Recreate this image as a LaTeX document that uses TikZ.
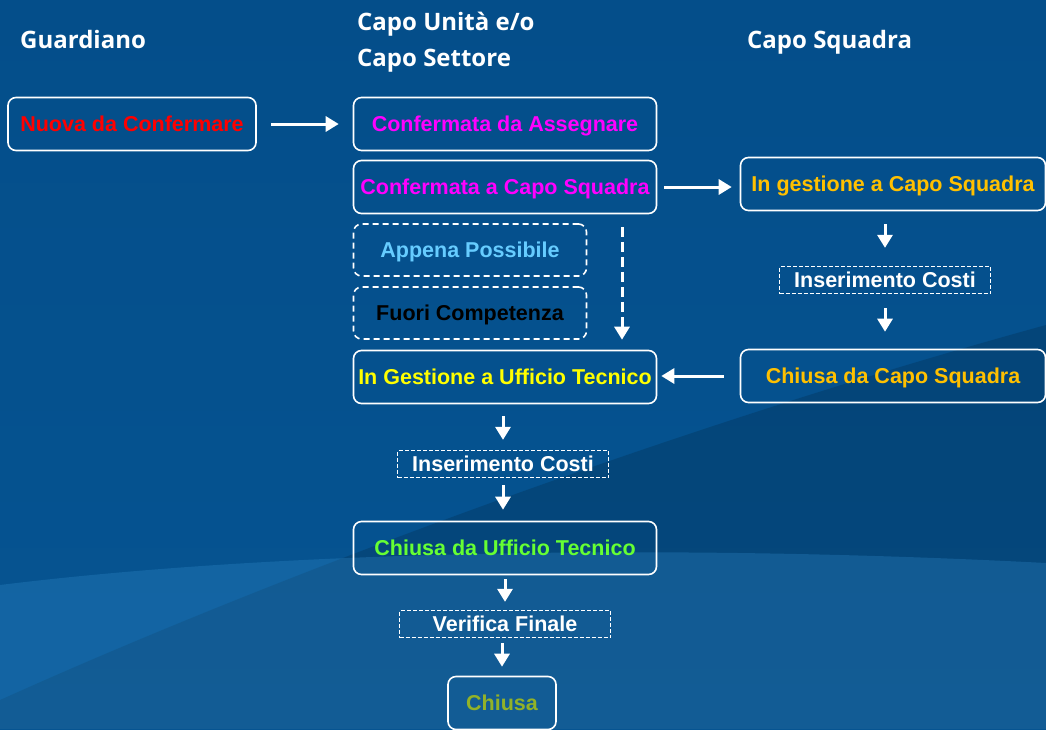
\documentclass[tikz,border=0pt]{standalone}
\usepackage{fontspec}
\setmainfont{Liberation Sans}
\newfontfamily\headfont{Open Sans}
\usetikzlibrary{arrows.meta,positioning}

\definecolor{bgtop}{RGB}{4,78,138}
\definecolor{bgmid}{RGB}{0,96,160}
\definecolor{bgbot}{RGB}{6,84,146}
\definecolor{bglight}{RGB}{50,140,205}
\definecolor{nuovared}{RGB}{255,0,0}
\definecolor{confmag}{RGB}{255,0,255}
\definecolor{possblue}{RGB}{102,204,255}
\definecolor{ufficioyellow}{RGB}{255,255,0}
\definecolor{squadorange}{RGB}{255,192,0}
\definecolor{ufficiogreen}{RGB}{102,255,51}
\definecolor{chiusaolive}{RGB}{146,178,40}

\tikzset{state/.style={draw=white, line width=1.6pt, rounded corners=8pt, inner sep=0pt,
    minimum width=303pt, minimum height=53pt, text height=15.5pt, text depth=0pt,
    font=\fontsize{21.5}{24}\selectfont\bfseries},
  optstate/.style={state, minimum width=233pt, minimum height=52pt, dash pattern=on 6pt off 4pt},
  costbox/.style={draw=white, line width=1.3pt, dash pattern=on 4pt off 2pt, inner sep=0pt,
    minimum width=211pt, minimum height=27pt, text height=15.5pt, text depth=0pt, text=white,
    font=\fontsize{21.5}{24}\selectfont\bfseries},
  flow/.style={draw=white, line width=3pt, -{Triangle[width=15pt,length=13pt]}},
  heading/.style={anchor=west, text=white, align=left, inner sep=0pt,
    font=\headfont\fontsize{24}{36}\selectfont\bfseries}}

\begin{document}
\begin{tikzpicture}
                % background
                \useasboundingbox (0,0) rectangle (1046pt,-729pt);
                \shade[top color=bgtop, middle color=bgmid, bottom color=bgbot] (0,0) rectangle (1046pt,-729pt);
                \fill[black, opacity=0.14] (0,-700pt) .. controls (300pt,-565pt) and (700pt,-420pt) .. (1046pt,-325pt)
                    -- (1046pt,-729pt) -- (0,-729pt) -- cycle;
                \fill[bglight, opacity=0.3] (0,-585pt) .. controls (300pt,-548pt) and (700pt,-545pt) .. (1046pt,-563pt)
                    -- (1046pt,-729pt) -- (0,-729pt) -- cycle;

                % headings
                \node[heading] (guardiano) at (20pt,-39pt) {Guardiano};
                \node[heading] (capounita) at (357pt,-42pt) {Capo Unità e/o\\Capo Settore};
                \node[heading] (caposquadra) at (747pt,-42pt) {Capo Squadra};

                % states
                \node[state, minimum width=248pt, text=nuovared] (nuova) at (132pt,-124pt) {Nuova da Confermare};
                \node[state, text=confmag] (assegnare) [right of = nuova, node distance=373pt] {Confermata da Assegnare};
                \node[state, text=confmag] (capoconf) [below of = assegnare, node distance=63pt] {Confermata a Capo Squadra};
                \node[optstate, text=possblue] (appena) [below of = capoconf, node distance=63pt, xshift=-35pt] {Appena Possibile};
                \node[optstate, text=black] (fuori) [below of = appena, node distance=63pt] {Fuori Competenza};
                \node[state, text=ufficioyellow] (ufficio) [below of = capoconf, node distance=190pt] {In Gestione a Ufficio Tecnico};

                \node[state, minimum width=305pt, text=squadorange] (gestcapo) [right of = capoconf, node distance=388pt, yshift=3pt] {In gestione a Capo Squadra};
                \node[costbox] (costicapo) [below of = gestcapo, node distance=96pt, xshift=-8pt] {Inserimento Costi};
                \node[state, minimum width=305pt, text=squadorange] (chiusacapo) [below of = gestcapo, node distance=192pt] {Chiusa da Capo Squadra};

                \node[costbox] (costiuff) [below of = ufficio, node distance=87pt, xshift=-2pt] {Inserimento Costi};
                \node[state, text=ufficiogreen] (chiusauff) [below of = ufficio, node distance=171pt] {Chiusa da Ufficio Tecnico};
                \node[costbox] (verifica) [below of = chiusauff, node distance=76pt] {Verifica Finale};
                \node[state, minimum width=108pt, text=chiusaolive] (chiusa) [below of = verifica, node distance=79pt, xshift=-3pt] {Chiusa};

                % transitions
                \draw[flow, shorten <=14pt, shorten >=14pt] (nuova) -- (assegnare);
                \draw[flow, shorten <=7pt, shorten >=8pt] (capoconf.east) -- (capoconf.east -| gestcapo.west);
                \draw[flow, dash pattern=on 10pt off 5pt, shorten <=13pt, shorten >=10pt]
                    ([xshift=117pt]capoconf.south) -- ([xshift=117pt]ufficio.north);
                \draw[flow, shorten <=13pt, shorten >=18pt] (gestcapo.south -| costicapo) -- (costicapo.north);
                \draw[flow, shorten <=14pt, shorten >=17pt] (costicapo.south) -- (costicapo.south |- chiusacapo.north);
                \draw[flow, shorten <=16pt, shorten >=4pt] (chiusacapo.west) -- (chiusacapo.west -| ufficio.east);
                \draw[flow, shorten <=12pt, shorten >=10pt] (ufficio.south -| costiuff) -- (costiuff.north);
                \draw[flow, shorten <=7pt, shorten >=11pt] (costiuff.south) -- (costiuff.south |- chiusauff.north);
                \draw[flow, shorten <=4pt, shorten >=8pt] (chiusauff.south) -- (verifica.north);
                \draw[flow, shorten <=5pt, shorten >=9pt] (verifica.south -| chiusa) -- (chiusa.north);
            \end{tikzpicture}
\end{document}
